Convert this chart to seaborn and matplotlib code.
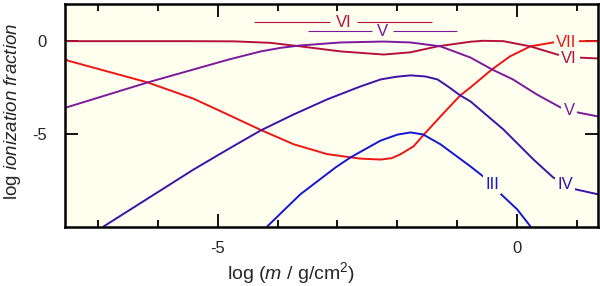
import numpy as np
import pandas as pd
import seaborn as sns
import matplotlib
matplotlib.use('Agg')
import matplotlib.pyplot as plt

# ion curves: log m (x) vs log ionization fraction (y)
x_VII = [-7.53, -7.5, -6.17, -5.40, -4.83, -4.28, -3.73, -3.17, -2.62, -2.28, -2.1, -1.95, -1.73, -1.57, -1.28, -0.95, -0.78, -0.42, -0.12, 0.22, 0.60, 1.05, 1.35]
y_VII = [-0.98, -1.05, -2.22, -3.10, -3.95, -4.78, -5.55, -6.08, -6.32, -6.37, -6.30, -6.09, -5.66, -5.07, -4.05, -2.92, -2.49, -1.52, -0.82, -0.28, -0.07, 0.0, 0.0]

x_VI = [-7.53, -5.5, -4.73, -4.12, -3.62, -2.95, -2.23, -1.78, -1.33, -0.78, -0.57, -0.23, 0.22, 0.67, 1.0, 1.35]
y_VI = [0.0, 0.0, -0.01, -0.09, -0.28, -0.55, -0.72, -0.6, -0.28, -0.03, 0.02, 0.0, -0.28, -0.72, -0.88, -0.93]

x_V = [-7.53, -6.17, -5.40, -4.83, -4.28, -3.95, -3.62, -2.95, -2.23, -1.78, -1.28, -0.78, -0.42, -0.07, 0.33, 0.72, 1.0, 1.35]
y_V = [-3.57, -2.22, -1.52, -1.00, -0.55, -0.36, -0.23, -0.07, -0.02, -0.07, -0.28, -0.88, -1.52, -2.06, -2.87, -3.56, -3.83, -4.05]

x_IV = [-6.9, -5.40, -4.83, -4.28, -3.73, -3.17, -2.62, -2.28, -2.03, -1.78, -1.53, -1.33, -1.15, -0.95, -0.78, -0.23, 0.27, 0.60, 0.97, 1.35]
y_IV = [-9.96, -6.90, -5.82, -4.80, -3.94, -3.13, -2.44, -2.06, -1.92, -1.84, -1.90, -2.06, -2.45, -2.92, -3.24, -4.75, -6.36, -7.33, -7.97, -8.24]

x_III = [-4.17, -3.62, -3.03, -2.78, -2.28, -2.0, -1.78, -1.57, -1.28, -0.78, -0.57, -0.32, 0.0, 0.22]
y_III = [-9.96, -8.24, -6.79, -6.25, -5.35, -5.03, -4.91, -5.02, -5.55, -6.74, -7.27, -8.08, -9.05, -9.96]

ion_names = ['VII', 'VI', 'V', 'IV', 'III']
ion_colors = ['#ee1515', '#b5103f', '#7b1a9b', '#3d12a8', '#1515d5']
# where the ion names sit on the curves
label_x = [0.82, 0.87, 0.87, 0.80, -0.42]
label_y = [-0.05, -0.93, -3.73, -7.70, -7.70]

# the two bars near the top
bar_names = ['VI', 'V']
bar_start = [-4.4, -3.5]
bar_end = [-1.42, -1.0]
bar_level = [1.02, 0.54]
bar_text_x = [-2.9, -2.25]
bar_gap = [0.23, 0.18]

curves = {'VII': (x_VII, y_VII), 'VI': (x_VI, y_VI), 'V': (x_V, y_V),
          'IV': (x_IV, y_IV), 'III': (x_III, y_III)}

sns.set_style('ticks')
plt.rcParams['font.family'] = ['Liberation Sans', 'DejaVu Sans']
plt.rcParams['mathtext.fontset'] = 'custom'
plt.rcParams['mathtext.rm'] = 'Liberation Sans'
plt.rcParams['mathtext.it'] = 'Liberation Sans:italic'

bg = '#fffff0'
fig = plt.figure(figsize=(6, 2.86), dpi=100)
ax = fig.add_axes([65/600, 59/286, 533/600, 223/286])
ax.set_facecolor(bg)

for name, col in zip(ion_names, ion_colors):
    xs, ys = curves[name]
    df = pd.DataFrame({'x': xs, 'y': ys})
    sns.lineplot(data=df, x='x', y='y', sort=False, estimator=None,
                 color=col, linewidth=1.4, ax=ax)

for name, col, lx, ly in zip(ion_names, ion_colors, label_x, label_y):
    ax.text(lx, ly, name, color=col, fontsize=12, ha='center', va='center',
            bbox=dict(boxstyle='square,pad=0.15', fc=bg, ec='none'), zorder=5)

# bars with the ion name set in a gap
for name, s, e, lv, tx, g, col in zip(bar_names, bar_start, bar_end, bar_level,
                                      bar_text_x, bar_gap, ion_colors[1:3]):
    ax.hlines([lv, lv], [s, tx + g], [tx - g, e], color=col, linewidth=0.8)
    ax.text(tx, lv, name, color=col, fontsize=12, ha='center', va='center')

ax.set_xlim(-7.55, 1.35)
ax.set_ylim(-10, 2)
ax.set_xticks([-5, 0])
ax.set_xticklabels(['-5', '0'])
ax.set_xticks(np.arange(-7, 2), minor=True)
ax.set_yticks([0, -5])
ax.set_yticklabels(['0', '-5'])
ax.tick_params(which='both', direction='in', top=True, right=True, width=1.3,
               labelsize=12, color='black')
ax.tick_params(which='major', length=9.5)
ax.tick_params(which='minor', length=5)
ax.tick_params(axis='x', pad=10)
ax.tick_params(axis='y', pad=13)
for sp in ax.spines.values():
    sp.set_linewidth(1.8)
    sp.set_color('black')

ax.set_xlabel(r'log ($m$ / g/cm$^2$)', fontsize=14)
ax.set_ylabel(r'log $ionization\ fraction$', fontsize=13.5)
ax.xaxis.set_label_coords(0.425, -0.15)
ax.yaxis.set_label_coords(-0.078, 0.52)

fig.savefig('out.png', dpi=100, facecolor='white')
